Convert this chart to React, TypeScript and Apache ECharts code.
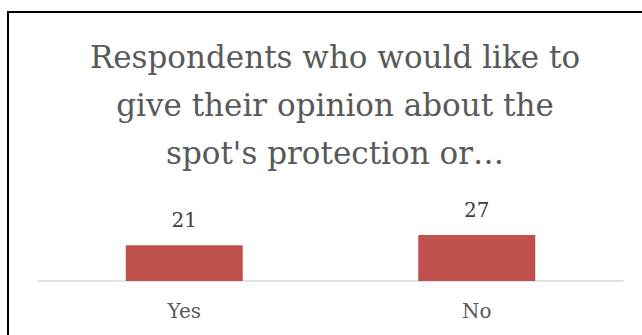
import React, { useEffect, useRef } from "react";
import * as echarts from "echarts";

const titleLines = [
  "Respondents who would like to",
  "give their opinion about the",
  "spot's protection or…",
];
const categories = ["Yes", "No"];
const values = [21, 27];

const FONT = "'DejaVu Serif', 'Liberation Serif', serif";

export default function App() {
  const ref = useRef<HTMLDivElement>(null);
  useEffect(() => {
    document.body.style.margin = "0";
    const chart = echarts.init(ref.current!, null, { renderer: "svg" });
    chart.setOption({
      animation: false,
      title: {
        text: titleLines.join("\n"),
        left: 330,
        top: 28,
        textAlign: "center",
        textStyle: {
          fontFamily: FONT,
          fontSize: 31,
          lineHeight: 48,
          fontWeight: "normal",
          color: "#595959",
        },
      },
      grid: { left: 38, right: 19, top: 230, bottom: 54 },
      xAxis: {
        type: "category",
        data: categories,
        axisLine: { lineStyle: { color: "#D9D9D9", width: 1.5 } },
        axisTick: { show: false },
        axisLabel: {
          fontFamily: FONT,
          fontSize: 20,
          color: "#595959",
          margin: 20,
        },
      },
      yAxis: {
        type: "value",
        min: 0,
        max: 30,
        show: false,
        splitLine: { show: false },
      },
      series: [
        {
          type: "bar",
          data: values,
          barWidth: "40%",
          itemStyle: { color: "#C0504D" },
          label: {
            show: true,
            position: "top",
            distance: 15,
            fontFamily: FONT,
            fontSize: 20,
            color: "#404040",
          },
        },
      ],
    });
    return () => chart.dispose();
  }, []);
  return (
    <div style={{ position: "relative", width: 642, height: 335, overflow: "hidden", background: "#fff" }}>
      <div
        style={{
          position: "absolute",
          left: 7,
          top: 11,
          width: 700,
          height: 400,
          border: "2px solid #000",
          boxSizing: "border-box",
        }}
      />
      <div ref={ref} style={{ position: "absolute", left: 0, top: 0, width: 642, height: 335 }} />
    </div>
  );
}
